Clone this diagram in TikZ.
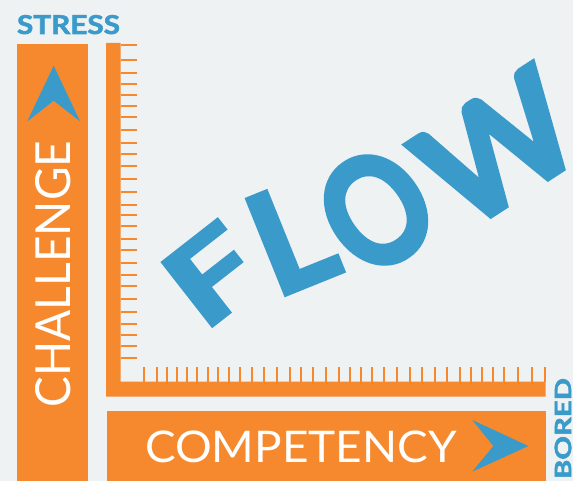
\documentclass[tikz,border=0pt]{standalone}
\usepackage{fontspec}
\usepackage{graphicx}
\setmainfont{Lato}
\newfontfamily\heavyfont{Lato}[FakeBold=2]
\newfontfamily\flowfont{Lato}[FakeBold=3.5]
\definecolor{bgc}{HTML}{EEF2F3}
\definecolor{orangec}{HTML}{F6892D}
\definecolor{bluec}{HTML}{3A9ACA}
\newcommand{\fitbox}[3]{\resizebox{#1pt}{#2pt}{#3}}
\begin{document}
\begin{tikzpicture}[x=1pt,y=-1pt,
  bar/.style={fill=orangec,draw=none},
  tick/.style={draw=orangec,line width=2pt},
  pointer/.style={fill=bluec,draw=none},
  label/.style={inner sep=0pt,outer sep=0pt,text=white},
  tag/.style={inner sep=0pt,outer sep=0pt,text=bluec,font=\heavyfont\bfseries},
  flowletter/.style={inner sep=0pt,outer sep=0pt,text=bluec,font=\flowfont\bfseries}]
% canvas
\fill[bgc] (0,0) rectangle (573,481);
\useasboundingbox (0,0) rectangle (573,481);

% challenge bar with up pointer
\fill[bar] (17,44) rectangle (88,485);
\fill[pointer] (53.7,65.7) -- (80,121.3) -- (53.7,100.7) -- (27.3,121.3) -- cycle;
\node[label,rotate=90] (challenge) at (53.5,274) {\fitbox{266.6}{35}{CHALLENGE}};

% ruler (axes)
\fill[bar] (106,43) -- (120.7,43) -- (120.7,381.7) -- (545.7,381.7)
  -- (545.7,396.7) -- (106,396.7) -- cycle;
\foreach \y in {44.7,59.7,72.7,83.7,94.7,105.7,116.7,129.7,142.7,153.7,165.7,178.7,
  191.7,204.7,214.7,225.7,238.7,249.7,262.7,274.7,285.7,298.7,311.7,323.7,334.7,345.7,357.7}
  \draw[tick] (120.7,\y) -- (136.7,\y);
\foreach \x in {143.7,156.7,166.7,176.7,186.7,196.7,207.7,217.7,228.7,239.7,251.7,263.7,
  276.7,289.7,300.7,312.7,325.7,338.7,349.7,360.7,371.7,383.7,396.7,409.7,421.7,434.7,
  446.7,459.7,470.7,481.7,492.7,503.7,517.7,531.7,544.7}
  \draw[tick] (\x,367) -- (\x,382);

% competency bar with right pointer
\fill[bar] (107,411) rectangle (545.7,485);
\node[label,anchor=base west] (competency) at (145,462.3) {\fitbox{311.7}{31.6}{COMPETENCY}};
\fill[pointer] (528.3,446) -- (472.3,420) -- (493.3,446) -- (472.3,471.7) -- cycle;

% axis end labels
\node[tag,anchor=base west] (stress) at (17,34) {\fitbox{103}{19}{STRESS}};
\node[tag,rotate=90] (bored) at (563,428.5) {\fitbox{101}{16.5}{BORED}};

% FLOW, letters set along a rising arc
\node[flowletter,rotate=38] (f) at (212,275) {\fitbox{84}{80}{F}};
\node[flowletter,rotate=22] (l) at (291,237) {\fitbox{75}{102}{L}};
\node[flowletter,rotate=35] (o) at (376,210) {\fitbox{100}{110}{O}};
\node[flowletter,rotate=33] (w) at (498,148) {\fitbox{154}{106}{W}};
\end{tikzpicture}
\end{document}
